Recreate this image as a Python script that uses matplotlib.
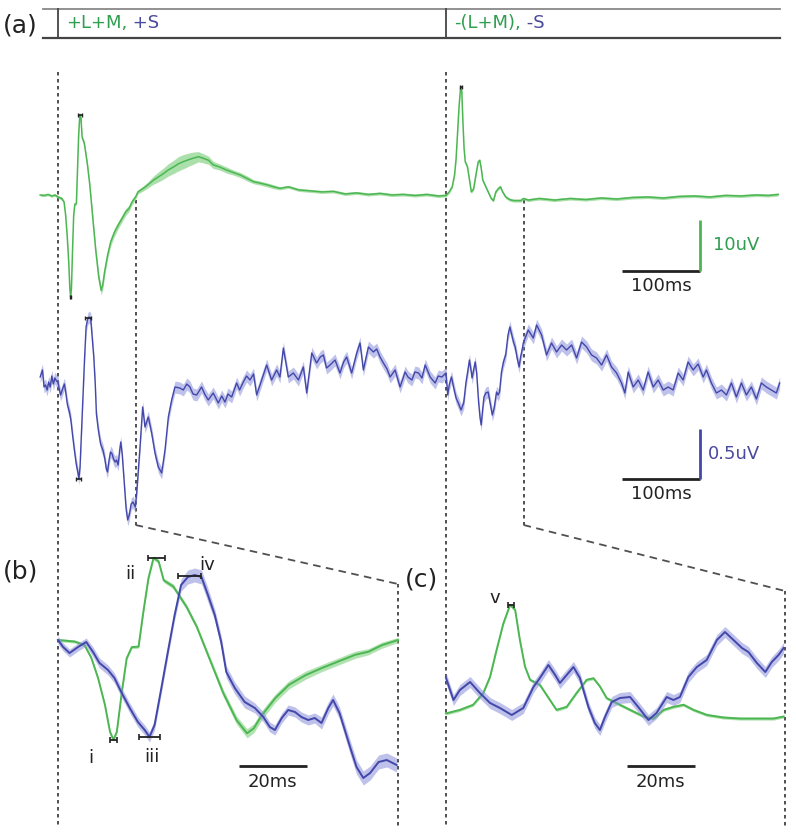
import numpy as np
import matplotlib
matplotlib.use("Agg")
import matplotlib.pyplot as plt

# ---- data (times in ms from stimulus onset, values in uV) ----
stim_on_ms = [0, 500]
stim_labels = [("+L+M,", " +S"), ("-(L+M),", " -S")]
zoom_windows = [(0, 100), (500, 600)]

# green (L+M) trace, split into segments
green_pre_t = [-23, -18, -13, -8, -4]
green_pre_v = [0.4, 0.3, 0.5, 0.2, 0.4]

green_b_t = [0, 4.9, 7.8, 9.8, 11.8, 13.8, 15.3, 16.3, 17.3, 18.8, 20.2, 21.7, 23.7,
             25.1, 26.6, 28.1, 29.6, 31.1, 33.9, 37.8, 40.8, 44.7, 48.6, 52.5, 55.6,
             57.6, 60.0, 63.9, 67.9, 72.8, 77.6, 82.5, 87.4, 91.3, 95.3, 100]
green_b_v = [0, -0.3, -1.0, -3.5, -7.5, -12.7, -18.0, -19.6, -18.0, -10.1, -3.6, -1.4,
             -1.3, 5.5, 12.1, 16.1, 15.4, 11.7, 10.5, 6.5, 2.6, -3.9, -10.4, -15.7, -18.3,
             -17.3, -14.7, -11.4, -8.8, -6.9, -5.5, -4.2, -2.9, -2.3, -1.0, 0]
green_b_sem = [0.3, 0.3, 0.3, 0.3, 0.3, 0.3, 0.3, 0.3, 0.3, 0.3, 0.3, 0.3, 0.3,
               0.4, 0.4, 0.4, 0.4, 0.4, 0.5, 0.5, 0.5, 0.6, 0.7, 0.8, 0.9,
               0.9, 0.9, 0.8, 0.8, 0.8, 0.7, 0.7, 0.7, 0.6, 0.6, 0.5]

green_mid_t = [103, 110, 116, 123, 130, 136, 142, 149, 155, 161, 168, 174, 181, 187,
               194, 200, 208, 217, 226, 235, 244, 252, 261, 269, 278, 286, 297, 310,
               325, 340, 355, 370, 385, 400, 415, 430, 445, 460, 475, 490]
green_mid_v = [1.0, 1.7, 2.4, 3.3, 4.0, 4.6, 5.3, 5.9, 6.5, 6.9, 7.3, 7.6, 7.9, 7.6,
               7.2, 6.3, 5.9, 5.3, 4.8, 4.3, 3.6, 3.0, 2.7, 2.4, 2.0, 1.7, 2.0, 1.4,
               1.2, 1.0, 1.1, 0.6, 0.8, 0.5, 0.7, 0.4, 0.5, 0.3, 0.5, 0.2]
green_mid_sem = [0.4, 0.5, 0.6, 0.8, 1.0, 1.1, 1.2, 1.3, 1.4, 1.4, 1.3, 1.2, 1.0, 0.9,
                 0.8, 0.7, 0.6, 0.6, 0.5, 0.5, 0.5, 0.4, 0.4, 0.4, 0.4, 0.3, 0.3, 0.3,
                 0.3, 0.3, 0.3, 0.3, 0.3, 0.3, 0.3, 0.3, 0.3, 0.3, 0.3, 0.3]

green_c_t = [500, 504.1, 508.0, 511.0, 513.0, 514.9, 516.9, 518.9, 520.4, 521.8, 523.3,
             524.8, 527.7, 530.7, 532.6, 535.6, 538.5, 541.5, 543.5, 545.4, 547.4,
             550.4, 554.3, 558.3, 561.2, 564.2, 567.1, 570.1, 573.0, 577.0, 581.9,
             586.8, 591.7, 596.6, 599.6]
green_c_v = [0.3, 1.0, 2.0, 4.3, 7.5, 12.7, 17.9, 21.6, 20.6, 14.7, 9.5, 6.9, 5.9, 2.9,
             1.0, 1.6, 4.3, 6.9, 7.2, 5.6, 3.3, 2.3, 1.0, -0.3, -0.7, 1.0, 1.6, 2.0,
             1.0, 0.0, -0.5, -0.7, -0.7, -0.7, -0.3]

green_post_t = [606, 620, 640, 660, 680, 700, 720, 740, 760, 780, 800, 820, 840, 860,
                880, 900, 915, 928]
green_post_v = [-0.6, -0.3, -0.6, -0.3, -0.5, -0.2, -0.4, -0.1, 0.0, -0.2, 0.1, 0.2,
                0.0, 0.3, 0.2, 0.4, 0.3, 0.5]

# blue (S) trace
blue_pre_t = [-23, -20, -18, -16, -14, -12, -10, -8, -6, -4, -2]
blue_pre_v = [0.05, 0.12, -0.05, -0.03, -0.08, 0.0, -0.05, 0.06, -0.02, 0.04, 0.01]

blue_b_t = [0, 1.5, 3.4, 5.9, 8.3, 10.3, 12.2, 14.7, 16.6, 18.6, 21.1, 23.5, 25.5, 26.9,
            28.4, 30.4, 32.3, 34.3, 36.2, 38.2, 40.2, 42.2, 44.1, 46.1, 48.0, 49.5,
            52.0, 54.9, 57.9, 60.4, 62.3, 63.8, 65.8, 67.7, 69.7, 71.6, 73.6, 75.5,
            77.5, 79.5, 80.9, 82.8, 85.9, 87.8, 89.8, 91.8, 94.3, 96.7, 99.6]
blue_b_v = [0, -0.07, -0.13, -0.07, -0.02, -0.12, -0.23, -0.30, -0.38, -0.52, -0.68,
            -0.82, -0.90, -0.97, -0.85, -0.48, -0.12, 0.25, 0.55, 0.63, 0.65, 0.63, 0.45,
            0.25, -0.02, -0.32, -0.48, -0.62, -0.68, -0.77, -0.87, -0.90, -0.78, -0.70,
            -0.72, -0.77, -0.80, -0.78, -0.83, -0.68, -0.60, -0.73, -1.07, -1.27, -1.38,
            -1.33, -1.22, -1.20, -1.25]
blue_b_sem = [0.04, 0.04, 0.04, 0.04, 0.04, 0.05, 0.05, 0.05, 0.05, 0.05, 0.05, 0.05,
              0.05, 0.05, 0.05, 0.05, 0.05, 0.05, 0.06, 0.07, 0.07, 0.07, 0.07, 0.06,
              0.06, 0.06, 0.06, 0.06, 0.05, 0.05, 0.05, 0.05, 0.05, 0.05, 0.05, 0.05,
              0.05, 0.05, 0.06, 0.06, 0.06, 0.06, 0.07, 0.07, 0.07, 0.07, 0.07, 0.07, 0.07]

blue_mid_t = [101.4, 105.7, 109.1, 112.1, 116.4, 120.7, 125, 129.3, 133.6, 137.9, 142.2,
              146.5, 150.8, 157, 161.5, 166, 170, 174, 178.7, 185, 189, 193.6, 200,
              206.6, 211, 215.2, 219, 223.8, 230.2, 234, 238.8, 243, 247.4, 252, 256,
              262.4, 268.9, 275.3, 281.8, 286, 290.4, 296.8, 303.3, 309.8, 316.2, 320.5,
              327, 333.3, 338, 342, 346, 350.6, 357, 363.4, 368, 372, 378.4, 385, 389.2,
              393.5, 400, 406.4, 410.7, 415, 419.3, 424, 428, 434.4, 440.8, 447.3, 451,
              456, 460, 464.6, 469, 473.2, 479.6, 486, 490, 494.7]
blue_mid_v = [-1.11, -0.65, -0.25, -0.45, -0.35, -0.51, -0.71, -0.85, -0.91, -0.68,
              -0.35, -0.18, -0.05, -0.06, -0.08, -0.02, -0.05, -0.12, -0.13, -0.05,
              -0.12, -0.18, -0.11, -0.21, -0.14, -0.20, -0.12, -0.15, -0.01, -0.08, 0.0,
              0.06, 0.02, 0.08, -0.13, 0.02, 0.17, 0.02, 0.12, 0.05, 0.34, 0.05, 0.09,
              0.02, 0.15, -0.11, 0.29, 0.19, 0.25, 0.27, 0.14, 0.17, 0.22, 0.09, 0.20,
              0.25, 0.09, 0.29, 0.39, 0.12, 0.35, 0.30, 0.33, 0.25, 0.19, 0.13, 0.05,
              0.12, -0.05, 0.10, 0.05, 0.02, 0.10, 0.09, 0.04, 0.17, 0.05, -0.01, 0.06,
              0.05]

blue_c_t = [500, 502.2, 504.1, 507.1, 510.0, 513.0, 515.9, 519.4, 522.8, 525.8, 527.7,
            530.2, 532.2, 533.6, 535.6, 537.6, 539.5, 542.0, 543.9, 545.4, 546.9, 548.9,
            551.3, 554.3, 556.7, 559.7, 562.1, 565.1, 567.1, 569.0, 571.5, 574.0, 576.9,
            579.9, 582.3, 584.8, 587.3, 589.2, 591.7, 594.2, 596.1, 598.1, 599.6]
blue_c_v = [0.09, -0.13, -0.03, 0.05, -0.06, -0.16, -0.21, -0.28, -0.21, 0.0, 0.09,
            0.22, 0.12, 0.04, 0.12, 0.20, 0.09, -0.20, -0.36, -0.43, -0.30, -0.15, -0.11,
            -0.10, -0.20, -0.33, -0.26, -0.10, -0.13, -0.10, 0.10, 0.20, 0.27, 0.47,
            0.55, 0.47, 0.39, 0.35, 0.24, 0.15, 0.25, 0.32, 0.39]

blue_post_t = [606, 612.5, 616.8, 623.2, 629.6, 636, 642.5, 649, 655.4, 661.9, 668.3,
               674.7, 681.2, 687.6, 694, 700.5, 706.9, 713.3, 719.8, 726.2, 730.5, 734.8,
               741.2, 747.7, 754.1, 760.5, 767, 773.4, 779.9, 786.3, 792.7, 799.2, 805.6,
               812, 818.5, 824.9, 831.4, 835.6, 842, 848.5, 854.9, 861.4, 867.8, 874.2,
               880.7, 887.1, 893.5, 900, 906.4, 912.8, 919.3, 925.7, 930]
blue_post_v = [0.52, 0.44, 0.57, 0.47, 0.27, 0.39, 0.30, 0.37, 0.32, 0.37, 0.24, 0.40,
               0.35, 0.27, 0.24, 0.17, 0.27, 0.15, 0.09, -0.01, -0.11, 0.10, -0.05, 0.02,
               -0.08, 0.10, -0.05, 0.02, -0.08, -0.05, -0.08, 0.09, 0.02, 0.20, 0.12,
               0.18, 0.05, 0.12, -0.01, -0.11, -0.08, -0.13, -0.01, -0.15, -0.01, -0.13,
               -0.05, -0.17, -0.01, -0.05, -0.08, -0.11, -0.01]

# peak latencies (mean +/- error) marked i..v
peak_names = ["i", "ii", "iii", "iv", "v"]
peak_trace = ["g", "g", "b", "b", "g"]
peak_ms = [16.3, 28.9, 26.9, 38.7, 519.3]
peak_err = [1.0, 2.5, 3.1, 3.5, 0.9]
peak_uv = [-19.6, 16.1, -0.97, 0.64, 21.6]

scale_ms, scale_zoom_ms = 100, 20
scale_green_uv, scale_blue_uv = 10, 0.5

# ---- styling ----
W, H = 796, 836
G_LINE, G_BAND, G_TEXT = "#4cb752", "#7fcf7f", "#2f9e4f"
B_LINE, B_BAND, B_TEXT = "#4347aa", "#8a8fd8", "#4a4a9e"
GUIDE = "#505050"
FS = 13

fig = plt.figure(figsize=(W / 100, H / 100), dpi=100)


def overlay(x0, t0, sx, y0, sy):
    # full-figure axes: time t0 sits at pixel x0, value 0 at pixel row y0
    ax = fig.add_axes([0, 0, 1, 1], facecolor="none")
    ax.set_xlim(t0 - x0 / sx, t0 + (W - x0) / sx)
    ax.set_ylim(-(H - y0) / sy, y0 / sy)
    ax.set_axis_off()
    return ax


def trace(ax, t, v, sem, color, band, lw, alpha):
    t, v = np.asarray(t, float), np.asarray(v, float)
    sem = np.broadcast_to(np.asarray(sem, float), v.shape)
    ax.fill_between(t, v - sem, v + sem, color=band, lw=0, alpha=alpha)
    ax.plot(t, v, color=color, lw=lw, solid_joinstyle="round")


ax_px = fig.add_axes([0, 0, 1, 1], facecolor="none")
ax_px.set_xlim(0, W)
ax_px.set_ylim(H, 0)
ax_px.set_axis_off()

ax_gt = overlay(58, 0, 0.776, 197, 5.1)
ax_bt = overlay(58, 0, 0.776, 382, 100)
ax_gb = overlay(58, 0, 3.4, 640, 5.1)
ax_bb = overlay(58, 0, 3.4, 640, 100)
ax_gc = overlay(446, 500, 3.39, 715, 5.1)
ax_bc = overlay(446, 500, 3.39, 687, 100)

# overview traces
g_t = green_pre_t + green_b_t + green_mid_t + green_c_t + green_post_t
g_v = green_pre_v + green_b_v + green_mid_v + green_c_v + green_post_v
g_sem = ([0.25] * len(green_pre_t) + green_b_sem + green_mid_sem
         + [0.3] * len(green_c_t) + [0.3] * len(green_post_t))
trace(ax_gt, g_t, g_v, g_sem, G_LINE, G_BAND, 1.1, 0.65)

b_t = blue_pre_t + blue_b_t + blue_mid_t + blue_c_t + blue_post_t
b_v = blue_pre_v + blue_b_v + blue_mid_v + blue_c_v + blue_post_v
trace(ax_bt, b_t, b_v, 0.06, B_LINE, B_BAND, 1.0, 0.55)

# zoomed traces
trace(ax_gb, green_b_t, green_b_v, green_b_sem, G_LINE, G_BAND, 1.4, 0.6)
trace(ax_bb, blue_b_t, blue_b_v, blue_b_sem, B_LINE, B_BAND, 1.4, 0.55)
trace(ax_gc, green_c_t, green_c_v, 0.3, G_LINE, G_BAND, 1.4, 0.6)
trace(ax_bc, blue_c_t, blue_c_v, 0.055, B_LINE, B_BAND, 1.4, 0.55)

# peak markers
label_off = {"i": (-23, -18), "ii": (-26, -16), "iii": (2, -20), "iv": (18, 11), "v": (-17, 7)}
for name, tr, t, e, v in zip(peak_names, peak_trace, peak_ms, peak_err, peak_uv):
    top = ax_gt if tr == "g" else ax_bt
    zoom = (ax_gb if tr == "g" else ax_bb) if t < 300 else (ax_gc if tr == "g" else ax_bc)
    top.errorbar(t, v, xerr=e, fmt="none", ecolor="#222222", elinewidth=1.2,
                 capsize=1.5, capthick=1.0)
    zoom.errorbar(t, v, xerr=e, fmt="none", ecolor="#222222", elinewidth=1.3,
                  capsize=2.5, capthick=1.2)
    zoom.annotate(name, (t, v), xytext=label_off[name], textcoords="offset pixels",
                  ha="center", va="center", fontsize=FS, color="#222222")


def px(ax, t):
    return ax.transData.transform((t, 0))[0]


# stimulus bar
ax_px.plot([43, 780], [8.5, 8.5], color="#888888", lw=1.3)
ax_px.plot([43, 780], [37.5, 37.5], color="#444444", lw=1.6)
r = fig.canvas.get_renderer()
for t, (lab1, lab2) in zip(stim_on_ms, stim_labels):
    x = px(ax_gt, t)
    ax_px.plot([x, x], [8.5, 37.5], color="#444444", lw=1.3)
    t1 = ax_px.text(x + 8, 23, lab1, color=G_TEXT, fontsize=FS, va="center", ha="left")
    w = t1.get_window_extent(renderer=r).width
    ax_px.text(x + 8 + w, 23, lab2, color=B_TEXT, fontsize=FS, va="center", ha="left")

# dashed guides linking overview and zoom panels
for (t0, t1), ax_z in zip(zoom_windows, [ax_gb, ax_gc]):
    x_on = px(ax_gt, t0)
    x_end = px(ax_gt, t1)
    x_zend = px(ax_z, t1)
    y_diag = 584 if t0 == 0 else 591
    ax_px.plot([x_on, x_on], [72, 828], color=GUIDE, lw=1.4, ls=(0, (1.8, 1.8)))
    ax_px.plot([x_end, x_end], [200, 525], color=GUIDE, lw=1.4, ls=(0, (1.8, 1.8)))
    ax_px.plot([x_end, x_zend], [525, y_diag], color=GUIDE, lw=1.3, ls=(0, (4.2, 3.0)))
    ax_px.plot([x_zend, x_zend], [y_diag, 828], color=GUIDE, lw=1.4, ls=(0, (1.8, 1.8)))

# scale bars
for ax, amp, y0, col, lab, lab_dx in [(ax_gt, scale_green_uv, -14.5, G_LINE, "10uV", 13),
                                      (ax_bt, scale_blue_uv, -0.97, B_LINE, "0.5uV", 8)]:
    ax.plot([727, 727 + scale_ms], [y0, y0], color="#222222", lw=2.0, solid_capstyle="butt")
    ax.plot([727 + scale_ms] * 2, [y0, y0 + amp], color=col, lw=2.0, solid_capstyle="butt")
    ax.annotate(f"{scale_ms}ms", (727 + scale_ms / 2, y0), xytext=(0, -15),
                textcoords="offset pixels", ha="center", va="center", fontsize=FS,
                color="#222222")
    ax.annotate(lab, (727 + scale_ms, y0 + amp / 2), xytext=(lab_dx, 0),
                textcoords="offset pixels", ha="left", va="center", fontsize=FS,
                color=G_TEXT if col == G_LINE else B_TEXT)

for ax, t0, y0 in [(ax_gb, 53.2, -24.7), (ax_gc, 553.4, -10.0)]:
    ax.plot([t0, t0 + scale_zoom_ms], [y0, y0], color="#222222", lw=2.0,
            solid_capstyle="butt")
    ax.annotate(f"{scale_zoom_ms}ms", (t0 + scale_zoom_ms / 2, y0), xytext=(0, -16),
                textcoords="offset pixels", ha="center", va="center", fontsize=FS,
                color="#222222")

# panel letters
for s, x, y in [("(a)", 3, 26), ("(b)", 3, 572), ("(c)", 405, 579)]:
    ax_px.text(x, y, s, fontsize=18, color="#222222", ha="left", va="center")

fig.savefig("out.png", dpi=100)
